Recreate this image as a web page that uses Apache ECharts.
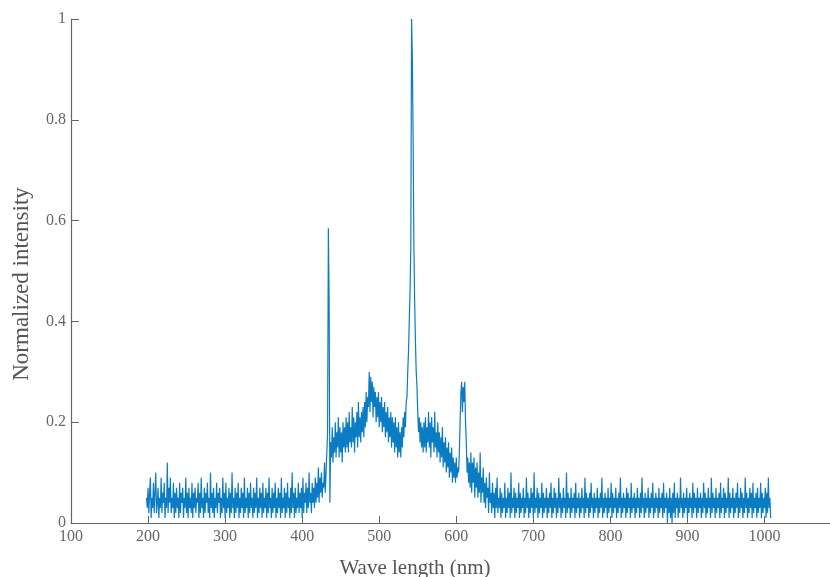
<!DOCTYPE html>
<html><head><meta charset="utf-8">
<script src="https://cdn.jsdelivr.net/npm/echarts@6/dist/echarts.min.js"></script>
<style>html,body{margin:0;padding:0;background:#fff}#c{width:830px;height:577px}</style>
</head><body><div id="c"></div>
<script>
// wavelength sampling: first sample and spacing (nm)
const waveStart = 198;
const waveStep = 1;
// normalized intensity, one value per nm (198 nm ... 1008 nm), 20 per row
const intensity = [
0.05,0.03,0.07,0.02,0.06,0.09,0.01,0.05,0.03,0.08,0.02,0.06,0.10,0.02,0.04,0.07,0.01,0.05,0.03,0.09,
0.02,0.06,0.04,0.08,0.01,0.05,0.03,0.12,0.02,0.07,0.04,0.09,0.02,0.05,0.03,0.08,0.01,0.06,0.02,0.07,
0.03,0.05,0.01,0.08,0.02,0.06,0.04,0.07,0.01,0.05,0.03,0.09,0.02,0.06,0.01,0.07,0.03,0.05,0.02,0.08,
0.01,0.06,0.03,0.07,0.02,0.05,0.04,0.08,0.01,0.06,0.02,0.09,0.03,0.05,0.01,0.07,0.02,0.06,0.04,0.08,
0.02,0.05,0.01,0.10,0.03,0.06,0.02,0.07,0.01,0.05,0.03,0.08,0.02,0.06,0.04,0.07,0.01,0.05,0.02,0.09,
0.03,0.06,0.01,0.08,0.02,0.05,0.03,0.07,0.01,0.06,0.02,0.10,0.03,0.05,0.01,0.07,0.02,0.06,0.03,0.08,
0.01,0.05,0.02,0.07,0.03,0.06,0.01,0.09,0.02,0.05,0.03,0.07,0.01,0.06,0.02,0.08,0.03,0.05,0.01,0.07,
0.02,0.06,0.03,0.09,0.01,0.05,0.02,0.07,0.03,0.06,0.01,0.08,0.02,0.05,0.03,0.07,0.01,0.06,0.02,0.09,
0.03,0.05,0.01,0.07,0.02,0.06,0.03,0.08,0.01,0.05,0.02,0.07,0.03,0.06,0.01,0.09,0.02,0.05,0.03,0.07,
0.01,0.06,0.02,0.08,0.03,0.05,0.01,0.07,0.02,0.10,0.03,0.06,0.01,0.07,0.02,0.05,0.03,0.08,0.02,0.06,
0.03,0.07,0.01,0.09,0.02,0.06,0.04,0.08,0.02,0.07,0.03,0.10,0.04,0.06,0.02,0.08,0.04,0.07,0.03,0.09,
0.04,0.08,0.05,0.11,0.04,0.09,0.06,0.10,0.05,0.08,0.07,0.12,0.06,0.10,0.14,0.18,0.585,0.44,0.04,0.16,
0.13,0.19,0.12,0.17,0.14,0.20,0.13,0.18,0.15,0.21,0.13,0.19,0.14,0.18,0.12,0.20,0.15,0.19,0.14,0.21,
0.15,0.20,0.14,0.22,0.16,0.19,0.15,0.23,0.16,0.21,0.14,0.20,0.17,0.22,0.15,0.24,0.17,0.21,0.16,0.22,
0.18,0.23,0.17,0.24,0.19,0.26,0.20,0.25,0.23,0.30,0.22,0.29,0.24,0.28,0.21,0.27,0.23,0.26,0.20,0.25,
0.21,0.26,0.19,0.24,0.20,0.25,0.18,0.23,0.19,0.24,0.17,0.22,0.18,0.23,0.16,0.21,0.17,0.22,0.15,0.21,
0.16,0.20,0.14,0.21,0.15,0.19,0.13,0.20,0.14,0.18,0.13,0.19,0.15,0.21,0.17,0.22,0.19,0.24,0.25,0.30,
0.34,0.40,0.46,0.55,1.00,0.92,0.76,0.55,0.44,0.36,0.30,0.27,0.22,0.18,0.21,0.16,0.20,0.15,0.19,0.14,
0.20,0.15,0.21,0.14,0.19,0.16,0.22,0.15,0.20,0.13,0.21,0.16,0.19,0.14,0.22,0.15,0.18,0.13,0.20,0.14,
0.18,0.12,0.17,0.13,0.19,0.11,0.16,0.12,0.17,0.10,0.15,0.11,0.16,0.09,0.14,0.10,0.15,0.08,0.13,0.09,
0.12,0.08,0.13,0.09,0.11,0.10,0.14,0.20,0.26,0.28,0.22,0.27,0.24,0.28,0.20,0.16,0.10,0.13,0.08,0.12,
0.07,0.14,0.06,0.12,0.08,0.13,0.05,0.11,0.07,0.12,0.05,0.10,0.06,0.14,0.04,0.09,0.06,0.11,0.04,0.08,
0.03,0.09,0.05,0.07,0.02,0.10,0.04,0.06,0.02,0.08,0.03,0.06,0.01,0.07,0.03,0.09,0.02,0.05,0.03,0.07,
0.01,0.06,0.02,0.05,0.03,0.08,0.01,0.05,0.02,0.07,0.03,0.06,0.01,0.10,0.02,0.05,0.03,0.07,0.01,0.06,
0.02,0.05,0.03,0.08,0.01,0.06,0.02,0.05,0.03,0.07,0.01,0.05,0.02,0.09,0.03,0.06,0.01,0.05,0.02,0.07,
0.03,0.06,0.01,0.10,0.02,0.05,0.03,0.07,0.01,0.06,0.02,0.05,0.03,0.08,0.01,0.06,0.02,0.05,0.03,0.07,
0.01,0.05,0.02,0.06,0.03,0.08,0.01,0.05,0.02,0.07,0.03,0.06,0.01,0.05,0.02,0.09,0.03,0.06,0.01,0.05,
0.02,0.07,0.03,0.05,0.01,0.10,0.02,0.06,0.03,0.05,0.01,0.07,0.02,0.05,0.03,0.06,0.01,0.08,0.02,0.05,
0.03,0.06,0.01,0.05,0.02,0.07,0.03,0.05,0.01,0.09,0.02,0.06,0.03,0.05,0.01,0.06,0.02,0.08,0.03,0.05,
0.01,0.06,0.02,0.05,0.03,0.07,0.01,0.05,0.02,0.06,0.03,0.09,0.01,0.05,0.02,0.06,0.03,0.05,0.01,0.07,
0.02,0.05,0.03,0.08,0.01,0.06,0.02,0.05,0.03,0.07,0.01,0.05,0.02,0.06,0.03,0.09,0.01,0.05,0.02,0.06,
0.03,0.05,0.01,0.07,0.02,0.06,0.03,0.05,0.01,0.08,0.02,0.05,0.03,0.06,0.01,0.05,0.02,0.07,0.03,0.05,
0.01,0.06,0.02,0.09,0.03,0.05,0.01,0.06,0.02,0.05,0.03,0.07,0.01,0.05,0.02,0.06,0.03,0.08,0.01,0.05,
0.02,0.06,0.03,0.05,0.01,0.07,0.02,0.05,0.03,0.06,0.01,0.08,0.02,0.05,0.03,0.06,0.00,0.05,0.02,0.07,
0.01,0.05,0.00,0.06,0.02,0.08,0.01,0.05,0.03,0.06,0.01,0.05,0.02,0.09,0.03,0.05,0.01,0.06,0.02,0.05,
0.03,0.07,0.01,0.05,0.02,0.06,0.03,0.05,0.01,0.08,0.02,0.06,0.03,0.05,0.01,0.07,0.02,0.05,0.03,0.06,
0.01,0.05,0.02,0.08,0.03,0.06,0.01,0.05,0.02,0.07,0.03,0.05,0.01,0.09,0.02,0.06,0.03,0.05,0.01,0.07,
0.02,0.05,0.03,0.06,0.01,0.08,0.02,0.05,0.03,0.07,0.01,0.06,0.02,0.05,0.03,0.09,0.01,0.06,0.02,0.05,
0.03,0.07,0.01,0.05,0.02,0.06,0.03,0.08,0.01,0.05,0.02,0.07,0.03,0.06,0.01,0.05,0.02,0.09,0.03,0.06,
0.01,0.05,0.02,0.07,0.03,0.06,0.01,0.08,0.02,0.05,0.03,0.06,0.01,0.07,0.02,0.05,0.03,0.08,0.01,0.06,
0.02,0.05,0.03,0.07,0.01,0.06,0.02,0.09,0.03,0.05,0.01
];
const xTicks = [100,200,300,400,500,600,700,800,900,1000];
const yTicks = [0,0.2,0.4,0.6,0.8,1];
const xTitle = 'Wave length (nm)';
const yTitle = 'Normalized intensity';

const points = intensity.map((v, i) => [waveStart + i * waveStep, v]);
const font = '"Liberation Serif","DejaVu Serif",serif';
const chart = echarts.init(document.getElementById('c'), null, {renderer: 'canvas'});
chart.setOption({
  animation: false,
  backgroundColor: '#fff',
  grid: {left: 71, right: 0, top: 19, bottom: 54, containLabel: false},
  xAxis: {
    type: 'value', min: 100, max: 1085, interval: 100,
    axisLine: {show: true, lineStyle: {color: '#666', width: 1.2}},
    axisTick: {show: true, inside: true, length: 7, lineStyle: {color: '#666'}, customValues: xTicks},
    splitLine: {show: false},
    axisLabel: {color: '#666', fontFamily: font, fontSize: 16, margin: 6, customValues: xTicks,
      formatter: v => xTicks.includes(v) ? String(v) : ''}
  },
  yAxis: {
    type: 'value', min: 0, max: 1, interval: 0.2,
    axisLine: {show: true, lineStyle: {color: '#666', width: 1.2}},
    axisTick: {show: true, inside: true, length: 8, lineStyle: {color: '#666'}},
    splitLine: {show: false},
    axisLabel: {color: '#666', fontFamily: font, fontSize: 16, margin: 5,
      formatter: v => { const t = yTicks.find(y => Math.abs(y - v) < 1e-9); return t === undefined ? '' : String(t); }}
  },
  graphic: [{
    type: 'text', x: 415, y: 568,
    style: {text: xTitle, fill: '#555', font: '21px ' + font, align: 'center', verticalAlign: 'middle'}
  }, {
    type: 'text', x: 22, y: 284, rotation: Math.PI / 2,
    style: {text: yTitle, fill: '#555', font: '23px ' + font, align: 'center', verticalAlign: 'middle'}
  }],
  series: [{
    type: 'line', data: points, showSymbol: false, symbol: 'none',
    lineStyle: {color: '#0a7cc4', width: 1.2}, clip: true
  }]
});
</script></body></html>
